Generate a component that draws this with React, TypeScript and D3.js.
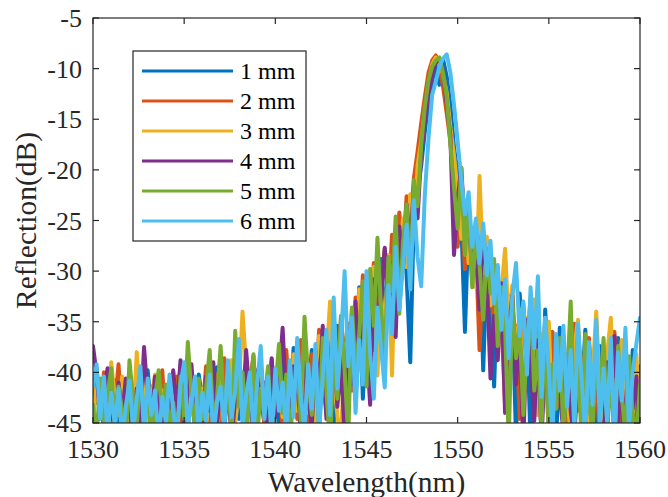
import React from "react";
import * as d3 from "d3";

const WL_START = 1530;
const WL_STEP = 0.2;

const S1 = [
  -40.5, -43, -41.2, -45.8, -42, -44.5, -40.8, -46, -43.2, -41.5,
  -44.8, -42.2, -46.5, -41, -43.8, -39.8, -44, -42.6, -47, -41.8,
  -43.5, -45.2, -40.6, -43, -46.2, -41.4, -44.4, -42, -45.6, -40.2,
  -42.8, -46, -41.6, -44.2, -39.5, -43.6, -45.8, -41, -43.9, -40.4,
  -44.6, -41.8, -38.6, -43.2, -46.4, -40.8, -42.4, -45, -39.6, -43.4,
  -41, -45.6, -38.4, -42.8, -44.8, -37.6, -41.4, -46.2, -39, -42.2,
  -37.8, -44, -40.2, -36.2, -43.4, -38.6, -45.2, -35.4, -40.6, -37.2,
  -43.6, -33.8, -38.4, -31.6, -42.6, -35, -30.2, -37.8, -33.4, -28.8,
  -34.6, -29.6, -37.2, -27.4, -31.8, -25.6, -30.4, -39, -24.4, -21.8,
  -19.6, -16.2, -13.4, -11.2, -9.8, -11.6, -9.1, -10.8, -13.6, -17.8,
  -20.4, -25.2, -36, -24.6, -28.6, -30.8, -26.4, -39.8, -29.2, -32.6,
  -41.4, -30.4, -35.2, -29, -38.4, -33.6, -46.4, -32.2, -37.8, -35,
  -47.2, -34.2, -39.6, -45.8, -33.8, -41.2, -36.4, -47.5, -35.6, -40.4,
  -44, -36.8, -46.6, -38.2, -42.6, -35.8, -45.4, -39.6, -47, -37.4,
  -41.8, -46.2, -38.6, -43.4, -36.6, -45.6, -40.2, -47.2, -37.8, -43.6,
  -39.4,
];

const S2 = [
  -42.4, -39.6, -44.2, -40, -46, -41.8, -43.4, -39.2, -45.2, -42.6,
  -40.8, -44.6, -42, -46.8, -40.6, -43.2, -41.4, -45.4, -42.8, -39.8,
  -45.8, -41.6, -43.6, -40.4, -44.8, -42.2, -46.4, -40.8, -43.8, -41.2,
  -44.2, -39.4, -46.2, -42.4, -40.2, -44.8, -38.6, -43, -45.4, -41.4,
  -39.6, -43.8, -46.8, -41, -38.4, -44, -40.6, -45.2, -42.2, -38.8,
  -43.4, -40, -45.6, -37.8, -42.8, -39.4, -44.6, -36.8, -41.6, -45.2,
  -38.2, -42.6, -35.8, -40.4, -44.2, -36.6, -39.2, -42.8, -34.6, -38.8,
  -35.2, -41.8, -32.6, -37.4, -30.4, -39.8, -34.2, -29.2, -36.6, -31.4,
  -27.8, -33.2, -26.4, -30.6, -24.2, -28.6, -22.6, -25.8, -20.8, -18.2,
  -15.4, -12.8, -10.4, -9.2, -8.7, -9.6, -11.8, -14.4, -17.2, -21.4,
  -27.6, -23.4, -29.8, -25.6, -31.2, -27.8, -37.8, -29.4, -33.6, -30.8,
  -36.2, -31.8, -34.8, -43.2, -32.4, -38.2, -35.4, -44.6, -33.2, -39.4,
  -36.8, -44.4, -35.6, -41.8, -37.4, -46.2, -36, -40.8, -43.4, -37.2,
  -45.6, -39.2, -35.2, -43.8, -38.4, -46.8, -36.6, -42.2, -39.8, -47,
  -37.8, -44.6, -40.4, -36, -45.8, -39.2, -43.2, -38.6, -46.4, -41,
  -43.8,
];

const S3 = [
  -44.6, -41.2, -43.8, -40.8, -45.4, -39, -42.6, -44.2, -40.4, -46.2,
  -42.4, -45, -38, -43.6, -41, -46.4, -42.8, -40.2, -44.6, -41.8,
  -46, -42.6, -40, -44.8, -41.4, -43.2, -45.8, -39.8, -42.2, -44.4,
  -41.6, -45.6, -40.8, -43.4, -46.6, -40.6, -44, -42.4, -38.8, -45,
  -41.8, -34, -39.6, -44.8, -41.2, -46, -39.4, -43.6, -40.8, -45.4,
  -42, -38.6, -44.4, -40.6, -46.8, -38.2, -43.8, -41.2, -37.4, -44,
  -40.8, -45.8, -36.4, -42.2, -39, -33, -40.6, -44.2, -47, -37.2,
  -40, -34.8, -42.6, -31.8, -38.2, -33.6, -36.8, -29.6, -40.3, -32.4,
  -35.8, -28.4, -40.3, -26.8, -31.4, -24.8, -29.6, -22.4, -26.2, -19.6,
  -17.2, -14.2, -11.6, -9.6, -8.9, -9.2, -10.6, -12.4, -15.8, -18.6,
  -22.2, -26.8, -24, -29.2, -27.4, -31.6, -20.6, -30.2, -26.6, -33.4,
  -29.8, -36.6, -32, -27.8, -35.2, -31.4, -39.2, -33.8, -42.6, -34.6,
  -38.6, -32.8, -44.2, -36.2, -40.6, -35, -45.6, -38.4, -42.8, -36.4,
  -41.2, -46.8, -37.6, -34.8, -43.6, -38.8, -46.4, -40.2, -34, -42,
  -45.2, -38.2, -34.6, -44.8, -40.4, -36.8, -46.6, -39.8, -44, -38.2,
  -45.8,
];

const S4 = [
  -37.4, -40.2, -44.6, -41.8, -39.6, -43.4, -46.2, -41, -44.2, -40.6,
  -43, -46.4, -41.6, -44.8, -37.5, -42.4, -45.2, -40.4, -43.8, -46.6,
  -41.4, -44, -39.8, -43.8, -38.8, -45.4, -41.8, -39.2, -44.6, -42,
  -46, -40.4, -43.8, -39, -45.2, -41.6, -44.4, -40.6, -46.8, -42.6,
  -40.2, -44.2, -37.8, -42.8, -45.8, -39.8, -43.2, -41, -46.4, -38.6,
  -44.4, -40.8, -35.6, -43, -46.2, -39.4, -41.6, -45, -38.2, -42.6,
  -45.4, -37.8, -41.8, -35.4, -44.6, -39.6, -36.8, -43.4, -38.8, -46.4,
  -35.8, -41.2, -33, -39.4, -31.6, -37, -43.2, -30.8, -35.6, -32.6,
  -27.7, -33.4, -29.2, -36.5, -25.6, -29.8, -23.4, -27.6, -21.6, -24.8,
  -18.4, -15.2, -12.6, -10.6, -9.4, -9, -10.2, -13.4, -16.6, -28.4,
  -22.8, -19.8, -26.2, -24.6, -30.2, -28, -33.8, -26, -30.6, -40.6,
  -34.4, -38.8, -31.2, -44, -35.6, -32.4, -41.2, -36, -47.2, -34.8,
  -39.6, -44.8, -36.8, -46.6, -38.4, -43, -47.4, -37.2, -42.4, -45.8,
  -38.2, -43.8, -47, -36.2, -41.6, -45.6, -39.4, -46.2, -37.6, -44.4,
  -47.2, -39, -42.8, -36.4, -44.8, -41, -46.8, -38.8, -43.6, -40.4,
  -47,
];

const S5 = [
  -43.2, -46.4, -40.6, -44.8, -42.2, -39.6, -45.6, -41.4, -43.8, -46.8,
  -38.8, -42.8, -45.2, -40.2, -44.4, -41.8, -46.6, -42.6, -39.8, -44.2,
  -41.2, -45.8, -43, -47, -40.4, -44.6, -37, -42.2, -45.4, -40.6,
  -44.6, -41.6, -37.8, -45, -42.6, -37.4, -44.2, -40.2, -46.2, -35.9,
  -43.4, -40, -45.6, -42.4, -38.2, -46.6, -41.6, -44, -39.4, -45.8,
  -41.8, -37.2, -44, -40.2, -46.8, -42, -39.2, -44.8, -34.5, -40.6,
  -44.2, -38.6, -45.8, -36.6, -41.8, -47.2, -37.8, -42.6, -34.4, -39.8,
  -46.4, -33.6, -39.8, -36.2, -31, -41.4, -29.8, -35.4, -26.7, -33.8,
  -38.4, -28.6, -32, -24.6, -34.2, -27.2, -23.4, -30.8, -21, -23.6,
  -17.6, -13.8, -11.2, -9.8, -9.2, -8.9, -10.4, -12.8, -17.4, -21.8,
  -25.8, -19.8, -28.4, -23.2, -31.6, -26.8, -29.4, -34.8, -27.8, -32.2,
  -28.8, -37.4, -31.6, -35.6, -46.8, -33, -38.6, -35.4, -44.2, -37.2,
  -32.6, -41.8, -37.8, -45.4, -34.6, -47.2, -39.2, -43.6, -36.6, -46,
  -40.8, -33, -44.6, -38.6, -47, -36.2, -42.8, -45.8, -38.2, -43.4,
  -36.6, -45.2, -39.8, -47.4, -37.4, -42.4, -46, -38.4, -44.2, -46.6,
  -41.2,
];

const S6 = [
  -41.4, -39.2, -44.6, -40.4, -46.2, -42, -45.2, -41.6, -46.6, -43.4,
  -40.8, -45.8, -42.6, -39.4, -46, -40.6, -44.2, -41.8, -46.8, -42.4,
  -45, -40.2, -43.8, -46.4, -41.2, -39, -45.6, -42.8, -40.4, -46.2,
  -42, -44.8, -40.2, -46.4, -43, -41.4, -45.8, -38.8, -44.4, -41.8,
  -36.7, -45.4, -42.2, -40, -46, -41.2, -37.4, -44.6, -40.4, -46.8,
  -39.6, -43.8, -41, -46.2, -38.8, -44.4, -36.6, -42.4, -45.6, -39.2,
  -43.6, -37.2, -46, -40.4, -35.8, -44.2, -32.6, -41.6, -37, -30,
  -39.4, -34.6, -44, -36.8, -41.2, -30, -38.2, -42.6, -33.6, -37.6,
  -41.5, -31.4, -36.2, -27.6, -33.8, -29.6, -25.4, -31.8, -23, -28.6,
  -31.5, -22.4, -16.9, -12.6, -11.3, -9.8, -9, -8.6, -10.4, -13.6,
  -17.2, -21, -24.4, -22.2, -27.6, -24.8, -29.2, -25.3, -30.4, -27,
  -33.2, -29.4, -35.8, -30.8, -38.6, -32.4, -29.2, -36.4, -33, -40.2,
  -31.6, -37.6, -30.5, -42.4, -34.6, -39.8, -46.4, -36.2, -41.8, -35.4,
  -43.4, -37.8, -45.6, -35.2, -40.6, -46.6, -37, -43.2, -34.8, -45.4,
  -39.6, -44.8, -36.6, -46.8, -38, -42.8, -35.6, -45.6, -40, -37.2,
  -34.6,
];

const SERIES_NAMES = ["1 mm", "2 mm", "3 mm", "4 mm", "5 mm", "6 mm"];
const SERIES_VALUES = [S1, S2, S3, S4, S5, S6];
const COLORS = ["#0072BD", "#D95319", "#EDB120", "#7E2F8E", "#77AC30", "#4DBEEE"];
const X_TICKS = [1530, 1535, 1540, 1545, 1550, 1555, 1560];
const Y_TICKS = [-5, -10, -15, -20, -25, -30, -35, -40, -45];

const W = 668;
const H = 497;
const M = { left: 93, right: 640, top: 18, bottom: 423 };
const AX = "#262626";
const TXT = { fontFamily: "Liberation Serif" };

export default function App() {
  const x = d3.scaleLinear().domain([1530, 1560]).range([M.left, M.right]);
  const y = d3.scaleLinear().domain([-45, -5]).range([M.bottom, M.top]);
  const line = d3
    .line<number>()
    .x((_, i) => x(WL_START + i * WL_STEP))
    .y((v) => y(v));

  const legX = 133;
  const legY = 51;
  const legW = 173;
  const legH = 190;
  const rowH = 30;

  return (
    <svg
      width={W}
      height={H}
      style={{ position: "absolute", left: 0, top: 0, background: "#fff" }}
    >
      <rect x={0} y={0} width={W} height={H} fill="#fff" />
      <defs>
        <clipPath id="plotclip">
          <rect x={M.left} y={M.top} width={M.right - M.left} height={M.bottom - M.top} />
        </clipPath>
      </defs>
      <g clipPath="url(#plotclip)">
        {SERIES_VALUES.map((vals, k) => (
          <path
            key={k}
            d={line(vals) || ""}
            fill="none"
            stroke={COLORS[k]}
            strokeWidth={4}
            strokeLinejoin="round"
            strokeLinecap="round"
          />
        ))}
      </g>
      <rect
        x={M.left}
        y={M.top}
        width={M.right - M.left}
        height={M.bottom - M.top}
        fill="none"
        stroke={AX}
        strokeWidth={1.2}
      />
      {X_TICKS.map((t) => (
        <g key={"x" + t}>
          <line x1={x(t)} x2={x(t)} y1={M.bottom} y2={M.bottom - 6} stroke={AX} strokeWidth={1.2} />
          <line x1={x(t)} x2={x(t)} y1={M.top} y2={M.top + 6} stroke={AX} strokeWidth={1.2} />
          <text x={x(t)} y={458} textAnchor="middle" fontSize={26} fill={AX} style={TXT}>
            {t}
          </text>
        </g>
      ))}
      {Y_TICKS.map((t) => (
        <g key={"y" + t}>
          <line x1={M.left} x2={M.left + 6} y1={y(t)} y2={y(t)} stroke={AX} strokeWidth={1.2} />
          <line x1={M.right} x2={M.right - 6} y1={y(t)} y2={y(t)} stroke={AX} strokeWidth={1.2} />
          <text x={82} y={y(t)} dy="0.35em" textAnchor="end" fontSize={26} fill={AX} style={TXT}>
            {t}
          </text>
        </g>
      ))}
      <text x={(M.left + M.right) / 2} y={492} textAnchor="middle" fontSize={29.5} fill={AX} style={TXT}>
        Wavelength(nm)
      </text>
      <text
        transform={`translate(36, ${(M.top + M.bottom) / 2}) rotate(-90)`}
        textAnchor="middle"
        fontSize={29.5}
        fill={AX}
        style={TXT}
      >
        Reflection(dB)
      </text>
      <rect x={legX} y={legY} width={legW} height={legH} fill="#fff" stroke={AX} strokeWidth={1.2} />
      {SERIES_NAMES.map((name, k) => {
        const cy = legY + 20 + k * rowH;
        return (
          <g key={name}>
            <line x1={142} x2={233} y1={cy} y2={cy} stroke={COLORS[k]} strokeWidth={3} />
            <text x={240} y={cy} dy="0.33em" fontSize={24} fill="#000" style={TXT}>
              {name}
            </text>
          </g>
        );
      })}
    </svg>
  );
}
